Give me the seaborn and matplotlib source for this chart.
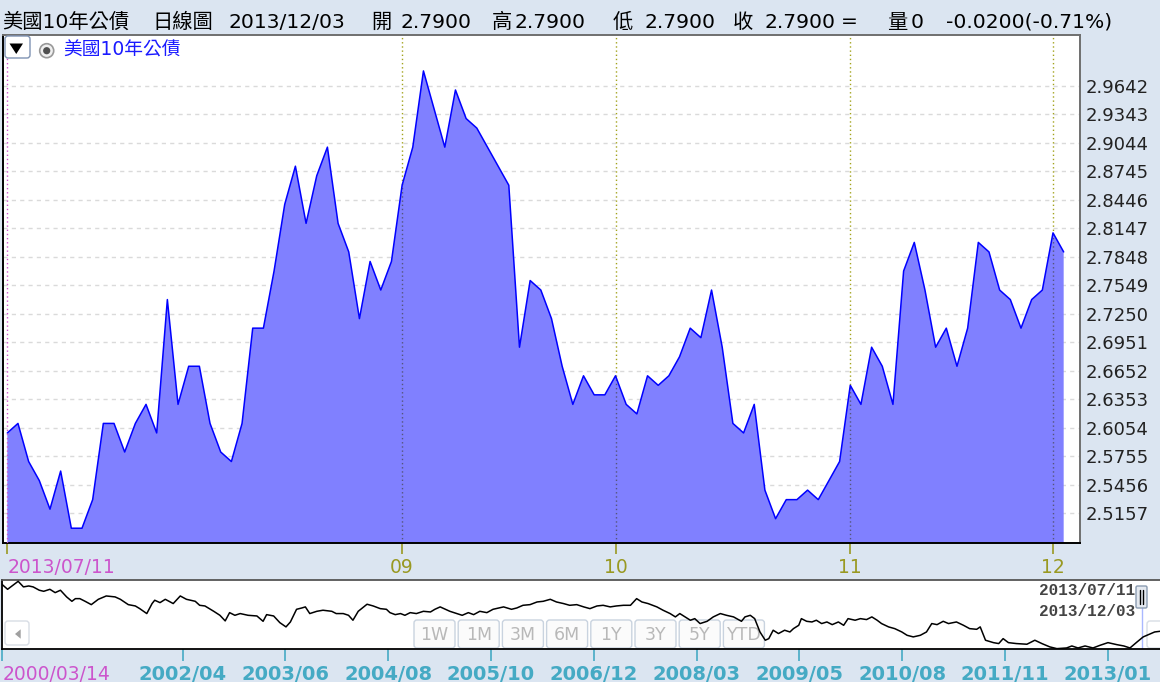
import numpy as np
import matplotlib
matplotlib.use('Agg')
import matplotlib.pyplot as plt
import seaborn as sns
from matplotlib.transforms import Affine2D
from matplotlib.patches import FancyBboxPatch, Circle, Polygon
from matplotlib.lines import Line2D

sns.set_style('white')
plt.rcParams['font.family'] = ['DejaVu Sans', 'Noto Sans CJK TC']

# ---- data ----
# daily close of the US 10y yield, 2013/07/11 .. 2013/12/03 (one value per trading day)
yields = [2.60, 2.61, 2.57, 2.55, 2.52, 2.56, 2.50, 2.50, 2.53, 2.61,
          2.61, 2.58, 2.61, 2.63, 2.60, 2.74, 2.63, 2.67, 2.67, 2.61,
          2.58, 2.57, 2.61, 2.71, 2.71, 2.77, 2.84, 2.88, 2.82, 2.87,
          2.90, 2.82, 2.79, 2.72, 2.78, 2.75, 2.78, 2.86, 2.90, 2.98,
          2.94, 2.90, 2.96, 2.93, 2.92, 2.90, 2.88, 2.86, 2.69, 2.76,
          2.75, 2.72, 2.67, 2.63, 2.66, 2.64, 2.64, 2.66, 2.63, 2.62,
          2.66, 2.65, 2.66, 2.68, 2.71, 2.70, 2.75, 2.69, 2.61, 2.60,
          2.63, 2.54, 2.51, 2.53, 2.53, 2.54, 2.53, 2.55, 2.57, 2.65,
          2.63, 2.69, 2.67, 2.63, 2.77, 2.80, 2.75, 2.69, 2.71, 2.67,
          2.71, 2.80, 2.79, 2.75, 2.74, 2.71, 2.74, 2.75, 2.81, 2.79]
start_label = '2013/07/11'
month_idx = [37, 57, 79, 98]          # first trading day of Sep, Oct, Nov, Dec
month_labels = ['09', '10', '11', '12']
y_ticks = [2.5157, 2.5456, 2.5755, 2.6054, 2.6353, 2.6652, 2.6951, 2.7250,
           2.7549, 2.7848, 2.8147, 2.8446, 2.8745, 2.9044, 2.9343, 2.9642]

# navigator: long history (position on the navigator scale, yield)
nav_pos = [2000.20, 2000.26, 2000.33, 2000.38, 2000.44, 2000.50, 2000.55, 2000.62, 2000.67, 2000.74,
           2000.80, 2000.86, 2000.93, 2000.99, 2001.03, 2001.08, 2001.14, 2001.21, 2001.29, 2001.38,
           2001.48, 2001.54, 2001.63, 2001.71, 2001.76, 2001.84, 2001.90, 2001.93, 2001.99, 2002.05,
           2002.14, 2002.22, 2002.29, 2002.39, 2002.44, 2002.50, 2002.60, 2002.67, 2002.73, 2002.78,
           2002.84, 2002.90, 2002.99, 2003.09, 2003.16, 2003.20, 2003.28, 2003.35, 2003.42, 2003.47,
           2003.54, 2003.60, 2003.64, 2003.69, 2003.77, 2003.84, 2003.94, 2003.99, 2004.07, 2004.13,
           2004.18, 2004.24, 2004.34, 2004.41, 2004.49, 2004.56,
           2004.60, 2004.66, 2004.72, 2004.77, 2004.83, 2004.90, 2004.98, 2005.06, 2005.11, 2005.17,
           2005.23, 2005.28, 2005.36, 2005.42, 2005.49, 2005.55, 2005.62, 2005.70, 2005.77, 2005.89,
           2005.98, 2006.04, 2006.11, 2006.19, 2006.27, 2006.34, 2006.42, 2006.49, 2006.57, 2006.64,
           2006.72, 2006.80, 2006.87, 2006.95, 2007.02, 2007.10, 2007.17, 2007.25, 2007.33, 2007.40,
           2007.46, 2007.53, 2007.63, 2007.70, 2007.78, 2007.84, 2007.89, 2007.95, 2008.01, 2008.06,
           2008.12, 2008.20, 2008.27, 2008.35, 2008.42, 2008.50, 2008.59, 2008.63, 2008.69, 2008.74,
           2008.80, 2008.86, 2008.90, 2008.95, 2009.01, 2009.08, 2009.14,
           2009.18, 2009.24, 2009.27, 2009.33, 2009.39, 2009.44, 2009.50, 2009.56, 2009.62, 2009.69,
           2009.75, 2009.80, 2009.88, 2009.94, 2010.01, 2010.07, 2010.13, 2010.18, 2010.26, 2010.33,
           2010.41, 2010.47, 2010.54, 2010.62, 2010.69, 2010.75, 2010.81, 2010.88, 2010.94, 2011.03,
           2011.11, 2011.18, 2011.26, 2011.30, 2011.36, 2011.45, 2011.51, 2011.56, 2011.62, 2011.71,
           2011.83, 2011.92, 2012.00, 2012.09, 2012.17, 2012.28, 2012.34, 2012.41, 2012.49, 2012.58,
           2012.66, 2012.75, 2012.85, 2012.93, 2013.00, 2013.08, 2013.15, 2013.21, 2013.28, 2013.34]
nav_vals = [6.25, 5.90, 6.25, 6.50, 6.08, 6.15, 6.08, 5.83, 5.75, 5.90,
            5.65, 5.83, 5.33, 5.00, 5.20, 5.20, 5.00, 4.75, 5.15, 5.40,
            5.33, 5.15, 4.75, 4.65, 4.45, 4.08, 4.83, 5.08, 4.90, 5.15,
            4.83, 5.40, 5.15, 5.00, 4.70, 4.65, 4.25, 3.95, 3.53, 4.15,
            3.95, 4.08, 3.95, 3.90, 3.50, 4.00, 3.90, 3.40, 3.08, 3.45,
            4.40, 4.50, 4.58, 4.08, 4.25, 4.33, 4.25, 4.08, 4.08, 3.95,
            3.58, 4.25, 4.78, 4.65, 4.45, 4.40,
            4.15, 4.00, 4.08, 3.95, 4.15, 4.08, 4.25, 4.20, 4.40, 4.58,
            4.40, 4.25, 4.08, 3.95, 4.15, 4.00, 4.25, 4.15, 4.40, 4.58,
            4.40, 4.50, 4.70, 4.75, 4.95, 5.00, 5.15, 4.95, 4.83, 4.70,
            4.75, 4.58, 4.45, 4.65, 4.70, 4.58, 4.65, 4.70, 4.70, 5.20,
            4.95, 4.83, 4.58, 4.33, 4.08, 3.83, 4.08, 3.83, 3.58, 3.70,
            3.33, 3.50, 3.83, 4.08, 3.95, 3.83, 3.50, 3.83, 3.95, 3.70,
            2.70, 2.08, 2.20, 2.83, 2.58, 2.83, 2.70,
            2.95, 3.20, 3.70, 3.50, 3.45, 3.58, 3.33, 3.45, 3.25, 3.45,
            3.20, 3.70, 3.58, 3.70, 3.63, 3.83, 3.58, 3.33, 3.08, 2.95,
            2.70, 2.45, 2.33, 2.45, 2.70, 3.33, 3.25, 3.50, 3.33, 3.45,
            3.20, 2.95, 2.90, 3.08, 2.08, 1.90, 1.83, 2.20, 1.90, 1.83,
            1.78, 2.08, 1.83, 1.58, 1.45, 1.50, 1.65, 1.50, 1.65, 1.50,
            1.70, 1.90, 1.75, 1.65, 1.50, 1.95, 2.33, 2.50, 2.70, 2.75]
nav_start_label = '2000/03/14'
nav_tick_pos = [2002.248, 2003.412, 2004.581, 2005.744, 2006.913,
                2008.082, 2009.247, 2010.416, 2011.582, 2012.750]
nav_tick_labels = ['2002/04', '2003/06', '2004/08', '2005/10', '2006/12',
                   '2008/03', '2009/05', '2010/08', '2011/11', '2013/01']
range_buttons = ['1W', '1M', '3M', '6M', '1Y', '3Y', '5Y', 'YTD']

header_parts = [(2, '美國10年公債'), (152, '日線圖'), (229, '2013/12/03'),
                (371, '開'), (401, '2.7900'), (492, '高'), (514, '2.7900'),
                (613, '低'), (645, '2.7900'), (733, '收'), (765, '2.7900'),
                (841, '='), (887, '量'), (911, '0'), (946, '-0.0200(-0.71%)')]

# ---- layout helpers (pixel coords, origin top-left) ----
W, H = 1160, 682
BG = '#dbe5f1'
fig = plt.figure(figsize=(W / 100, H / 100), dpi=100, facecolor=BG)
T = Affine2D().scale(0.01, -0.01).translate(0, H / 100) + fig.dpi_scale_trans


def rect(x0, y0, x1, y1):
    return [x0 / W, 1 - y1 / H, (x1 - x0) / W, (y1 - y0) / H]


# ---- header line ----
for x, s in header_parts:
    fig.text(x, 27.5, s, transform=T, fontsize=14.6, color='black', va='baseline')

# ---- main chart ----
ax = fig.add_axes(rect(3.3, 35, 1080, 542.7))
ax.set_facecolor('white')
idx = np.arange(len(yields))
ax.set_xlim(-0.375, 100.53)
ax.set_ylim(2.4848, 3.0177)

for v in y_ticks:
    ax.axhline(v, color='#dadada', lw=1, ls=(0, (3, 3)), zorder=1)
for m in month_idx:
    ax.axvline(m, color='#a3a31c', lw=1, ls=(0, (1, 2)), zorder=1)

fill = ax.fill_between(idx, yields, 2.0, color='#8080ff', lw=0, zorder=2)
sns.lineplot(x=idx, y=yields, ax=ax, color='#0000ff', lw=1.1, zorder=3)

# month separators seen through the area
fill_path = fill.get_paths()[0]
for m in month_idx:
    ln = ax.axvline(m, color='#55557a', lw=1, ls=(0, (1, 2)), zorder=2.5)
    ln.set_clip_path(fill_path, ax.transData)
ax.axvline(0, color='#cc55cc', lw=1, ls=(0, (1, 2)), zorder=4)

for side, c in [('left', 'black'), ('bottom', 'black'), ('top', '#6f6f6f'), ('right', '#6f6f6f')]:
    ax.spines[side].set_visible(True)
    ax.spines[side].set_color(c)
    ax.spines[side].set_linewidth(1.4)

ax.set_xticks([0] + month_idx, [start_label] + month_labels)
ax.tick_params(axis='x', bottom=True, direction='out', length=8, width=1.2,
               colors='#999922', labelsize=13.5, pad=3)
xt = ax.xaxis.get_major_ticks()
xt[0].tick1line.set_color('#cc55cc')
xt[0].label1.set_color('#cc55cc')
xt[0].label1.set_horizontalalignment('left')

ax.yaxis.tick_right()
ax.set_yticks(y_ticks, [f'{v:.4f}' for v in y_ticks])
ax.tick_params(axis='y', right=False, left=False, length=0, pad=4,
               labelsize=13, labelcolor='#222222')
ax.set_xlabel('')
ax.set_ylabel('')

# series selector in the top-left corner
fig.add_artist(FancyBboxPatch((5, 36), 25, 22, boxstyle='round,pad=0,rounding_size=3',
                              fc='white', ec='#7f93b3', lw=1, transform=T))
fig.add_artist(Polygon([(9.5, 43.5), (23, 43.5), (16.25, 54)], closed=True,
                       fc='black', ec='none', transform=T))
fig.add_artist(Circle((46.7, 50.7), 7, fc='#f0f0f0', ec='#999999', lw=1.2, transform=T))
fig.add_artist(Circle((46.7, 50.7), 3.6, fc='#505050', ec='none', transform=T))
fig.text(63, 50.5, '美國10年公債', transform=T, fontsize=13.5, color='#1a1aff', va='center')

# ---- navigator ----
nav = fig.add_axes(rect(2.3, 580.3, 1161, 649.3))
nav.set_facecolor('white')
nav.set_xlim(2000.20, 2013.352)
nav.set_ylim(1.40, 6.575)
sns.lineplot(x=nav_pos, y=nav_vals, ax=nav, color='black', lw=1.1, zorder=3)
nav.set_xlabel('')
nav.set_ylabel('')
nav.set_yticks([])
for side, c in [('left', 'black'), ('bottom', 'black'), ('top', '#555555'), ('right', 'black')]:
    nav.spines[side].set_visible(True)
    nav.spines[side].set_color(c)
    nav.spines[side].set_linewidth(1.3)

nav.set_xticks([2000.20] + nav_tick_pos, [nav_start_label] + nav_tick_labels)
nav.tick_params(axis='x', bottom=True, direction='out', length=8.6, width=1.2,
                colors='#45aac4', labelsize=14, pad=2.5)
for lab in nav.get_xticklabels()[1:]:
    lab.set_fontweight('bold')
nt = nav.xaxis.get_major_ticks()
nt[0].tick1line.set_color('#cc55cc')
nt[0].label1.set_color('#cc55cc')
nt[0].label1.set_fontsize(13.5)
nt[0].label1.set_horizontalalignment('left')

# scroll arrow and range buttons
nav.add_patch(FancyBboxPatch((5, 621), 24, 24, boxstyle='round,pad=0,rounding_size=3',
                             fc='white', ec='#d8dde5', lw=1, transform=T, zorder=2))
nav.add_patch(Polygon([(15, 634), (20.7, 629.3), (20.7, 638.7)], closed=True,
                      fc='#a0a0a0', ec='none', transform=T, zorder=2.2))
for i, b in enumerate(range_buttons):
    x0 = 414 + i * 44.2
    nav.add_patch(FancyBboxPatch((x0, 620), 41, 28, boxstyle='round,pad=0,rounding_size=3',
                                 fc='#fbfbfb', ec='#c9d3df', lw=1, transform=T, zorder=2))
    nav.text(x0 + 20.5, 634.5, b, transform=T, ha='center', va='center',
             fontsize=12.5, color='#b8b8b8', zorder=2.2)
nav.add_patch(FancyBboxPatch((1147, 621), 20, 27, boxstyle='round,pad=0,rounding_size=3',
                             fc='white', ec='#d8dde5', lw=1, transform=T, zorder=2))

# selected-range handle
nav.add_line(Line2D([1142, 1142], [608, 649], color='#aab8ff', lw=1, transform=T, zorder=2.5))
nav.add_patch(FancyBboxPatch((1136, 586), 11, 22, boxstyle='round,pad=0,rounding_size=1.5',
                             fc='#e4e9f0', ec='#8a9bb0', lw=1, transform=T, zorder=4))
for lx in (1140.3, 1142.7):
    nav.add_line(Line2D([lx, lx], [590, 604], color='black', lw=1, transform=T, zorder=5))
for yy, s in [(590.5, start_label), (611.5, '2013/12/03')]:
    nav.text(1135, yy, s, transform=T, ha='right', va='center', fontsize=11.5,
             fontweight='bold', family='Liberation Mono', color='#444444', zorder=5)

fig.savefig('out.png', dpi=100, facecolor=BG)
